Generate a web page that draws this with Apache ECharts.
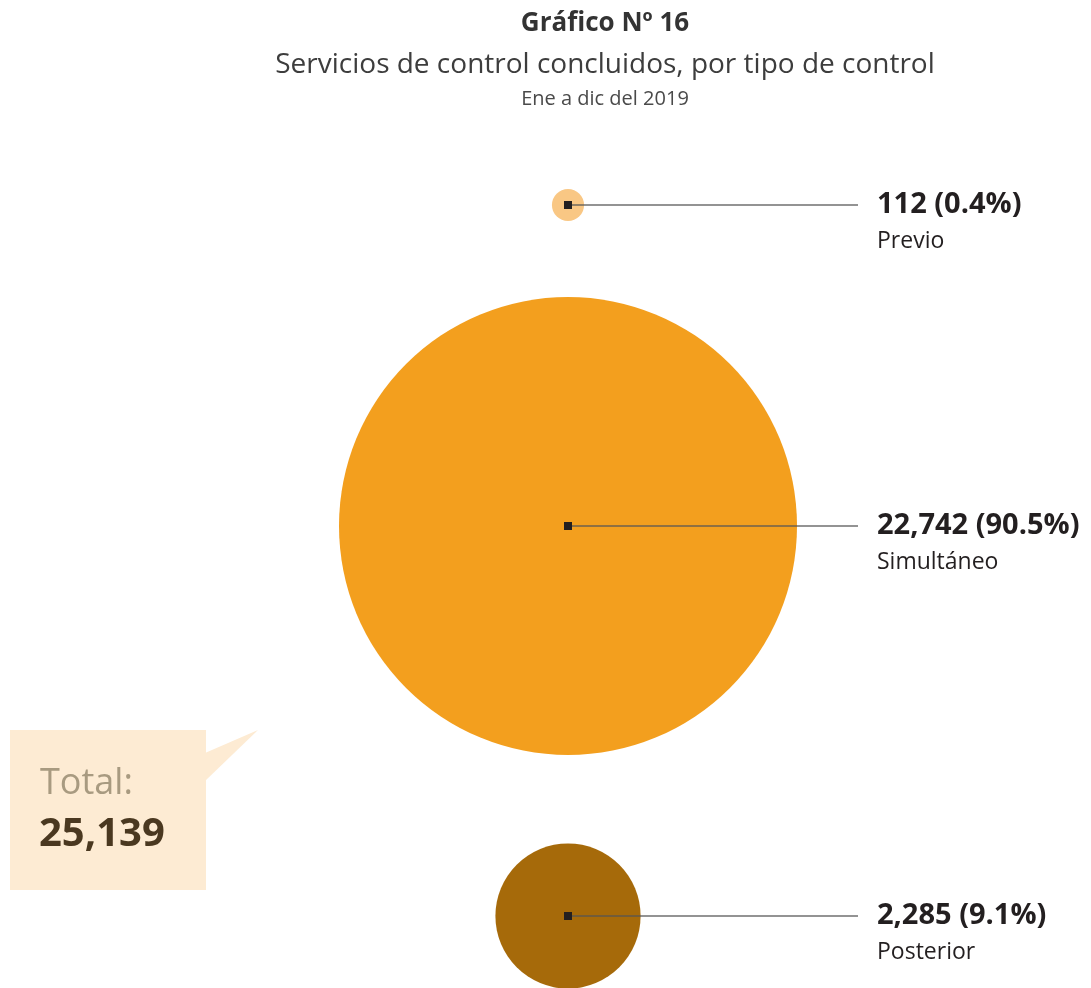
<!DOCTYPE html>
<html>
<head>
<meta charset="utf-8">
<script src="https://cdn.jsdelivr.net/npm/echarts@6/dist/echarts.min.js"></script>
<style>html,body{margin:0;padding:0;background:#fff}#c{width:1091px;height:988px}</style>
</head>
<body>
<div id="c"></div>
<script>
// Data
const categories = ['Previo', 'Simultáneo', 'Posterior'];
const values = [112, 22742, 2285];
const percents = ['0.4%', '90.5%', '9.1%'];
const total = 25139;
const colors = ['#F9C784', '#F39F1E', '#A66A0A'];

// Layout (pixel-like axis units)
const rowY = [205, 526, 916];
const centerX = 568;
const lineEndX = 858;
const labelX = 877;
const maxDiameter = 458;

const fmt = n => n.toLocaleString('en-US');
const maxV = Math.max(...values);
const sizeOf = v => maxDiameter * Math.sqrt(v / maxV);

const FONT = '"Open Sans", "Noto Sans", sans-serif';

const chart = echarts.init(document.getElementById('c'));
chart.setOption({
  animation: false,
  backgroundColor: '#fff',
  title: [
    { text: 'Gráfico Nº 16', left: 600, top: 6, textAlign: 'center',
      textStyle: { fontFamily: FONT, fontWeight: 'bold', fontSize: 26, color: '#333' } },
    { text: 'Servicios de control concluidos, por tipo de control', left: 600, top: 46, textAlign: 'center',
      textStyle: { fontFamily: FONT, fontWeight: 'normal', fontSize: 28, color: '#3d3d3d' } },
    { text: 'Ene a dic del 2019', left: 600, top: 84, textAlign: 'center',
      textStyle: { fontFamily: FONT, fontWeight: 'normal', fontSize: 20, color: '#4a4a4a' } }
  ],
  grid: { left: 0, right: 0, top: 0, bottom: 0 },
  xAxis: { type: 'value', min: 0, max: 1091, show: false },
  yAxis: { type: 'value', min: 0, max: 988, inverse: true, show: false },
  series: [
    {
      type: 'scatter',
      symbol: 'circle',
      z: 1,
      data: values.map((v, i) => ({
        value: [centerX, rowY[i]],
        symbolSize: sizeOf(v),
        itemStyle: { color: colors[i], opacity: 1 }
      })),
      silent: true
    },
    {
      type: 'custom',
      z: 3,
      silent: true,
      data: values.map((v, i) => [i]),
      renderItem: function (params, api) {
        const i = api.value(0);
        const p0 = api.coord([centerX, rowY[i]]);
        const p1 = api.coord([lineEndX, rowY[i]]);
        const pl = api.coord([labelX, rowY[i]]);
        return {
          type: 'group',
          children: [
            { type: 'line', shape: { x1: p0[0], y1: p0[1], x2: p1[0], y2: p1[1] },
              style: { stroke: '#555', lineWidth: 1.5, opacity: 0.85 } },
            { type: 'rect', shape: { x: p0[0] - 4, y: p0[1] - 4, width: 8, height: 8 },
              style: { fill: '#231F20' } },
            { type: 'text', x: pl[0], y: pl[1], style: {
                text: fmt(values[i]) + ' (' + percents[i] + ')',
                font: 'bold 29px ' + FONT, fill: '#231F20',
                textVerticalAlign: 'middle', verticalAlign: 'middle' } },
            { type: 'text', x: pl[0], y: pl[1] + 36, style: {
                text: categories[i],
                font: 'normal 23px ' + FONT, fill: '#231F20',
                textVerticalAlign: 'middle', verticalAlign: 'middle' } }
          ]
        };
      }
    }
  ],
  graphic: [
    { type: 'polygon', shape: { points: [[205, 753], [258, 730], [205, 781]] },
      style: { fill: '#FDEBD3' }, z: 0 },
    { type: 'rect', shape: { x: 10, y: 730, width: 196, height: 160 },
      style: { fill: '#FDEBD3' }, z: 0 },
    { type: 'text', x: 40, y: 784, style: { text: 'Total:', font: 'normal 36px ' + FONT,
      fill: '#A89A80', verticalAlign: 'middle' }, z: 2 },
    { type: 'text', x: 39, y: 835, style: { text: fmt(total), font: 'bold 40px ' + FONT,
      fill: '#4A3820', verticalAlign: 'middle' }, z: 2 }
  ]
});
</script>
</body>
</html>
